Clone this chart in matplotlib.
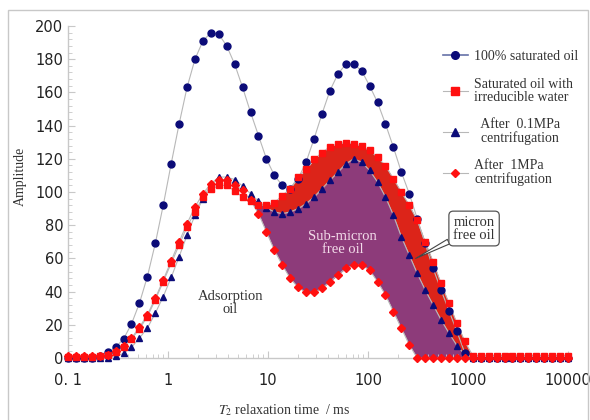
import numpy as np
import matplotlib
matplotlib.use('Agg')
import matplotlib.pyplot as plt
from matplotlib.lines import Line2D
from matplotlib.patches import Rectangle
from matplotlib.ticker import MultipleLocator, LogLocator, NullFormatter

plt.rcParams['mathtext.fontset'] = 'stix'

# ── Data: 64 log-spaced T2 points, 0.1 - 10000 ms ───────────────────────
t2 = np.logspace(-1, 4, 64)

sat_oil = [0, 0, 0, 0, 1.2, 3.4, 6.5, 11.5, 20.5, 33, 49, 69, 92, 117, 141, 163,
           180, 191, 196, 195, 188, 177, 163, 148, 134, 120, 110, 104, 102, 108,
           118, 132, 147, 161, 171, 177, 177, 173, 164, 154, 141, 127, 112, 99,
           84, 69, 54, 41, 28.5, 16, 3, 0, 0, 0, 0, 0, 0, 0, 0, 0, 0, 0, 0, 0]

irr_water = [0.8, 0.8, 0.8, 0.8, 1.0, 1.8, 3.6, 6.8, 11.4, 17.5, 25, 35, 46, 57, 68, 79,
             88, 97, 101.6, 104, 104, 100.6, 97, 94.8, 92, 92, 93.6, 97.8, 102, 109,
             113.6, 119.6, 123.7, 127.3, 129, 129.7, 129, 127.7, 125, 121, 115.8, 108, 100, 92,
             83, 70, 58, 45, 33, 21, 10, 1.5, 1.5, 1.5, 1.5, 1.5, 1.5, 1.5, 1.5, 1.5,
             1.5, 1.5, 1.5, 1.5]

cf_01 = [0, 0, 0, 0, 0, 0, 1, 2.8, 6.4, 12, 18, 27, 37, 48.5, 61, 74,
         86, 96, 105, 109, 109, 107.5, 103.6, 99, 94.5, 90.5, 88, 87, 88, 90,
         93, 97, 102, 107, 112, 117, 120, 118, 113, 106, 97, 86, 73, 62,
         51, 41, 32, 23, 15, 7.5, 2, 0, 0, 0, 0, 0, 0, 0, 0, 0, 0, 0, 0, 0]

cf_1 = [1, 1, 1, 1, 1.2, 2, 4, 7.5, 12, 18.5, 26, 36, 47, 58.5, 70, 81,
        91, 99, 105, 107.5, 107, 104.5, 101, 95, 87, 76, 65, 56, 48, 42.5,
        39.5, 39.5, 42, 46, 50, 54, 56, 56, 53, 46, 38, 28, 18, 8,
        0, 0, 0, 0, 0, 0, 0, 0, 0, 0, 0, 0, 0, 0, 0, 0, 0, 0, 0, 0]

labels = ["100% saturated oil",
          "Saturated oil with\nirreducible water",
          "  After  0.1MPa\n  centrifugation",
          "After  1MPa\ncentrifugation"]

xtick_vals = [0.1, 1, 10, 100, 1000, 10000]
xtick_labels = ["0. 1", "1", "10", "100", "1000", "10000"]

NAVY = "#0b0b78"
RED = "#ff1010"
LINE = "#b8b8b8"

sat_oil, irr_water, cf_01, cf_1 = map(np.array, (sat_oil, irr_water, cf_01, cf_1))

fig = plt.figure(figsize=(5.9, 4.2), dpi=100)
ax = fig.add_axes([68/590, 1-358/420, 500/590, 332/420])

# fills
mask_red = (t2 >= 8) & (t2 <= 1000)
ax.fill_between(t2, cf_01, irr_water, where=mask_red & (irr_water >= cf_01),
                interpolate=True, color="#dc2419", lw=0, zorder=1)
mask_pur = (t2 >= 7) & (t2 <= 1000)
ax.fill_between(t2, cf_1, cf_01, where=mask_pur & (cf_01 >= cf_1),
                interpolate=True, color="#8d3b7a", lw=0, zorder=1.5)

# series
for y in (sat_oil, irr_water, cf_01, cf_1):
    ax.plot(t2, y, color=LINE, lw=0.8, zorder=2)
ax.plot(t2, sat_oil, 'o', color=NAVY, ms=5.0, mec=NAVY, zorder=3, clip_on=False)
ax.plot(t2, cf_01, '^', color=NAVY, ms=5.0, mec=NAVY, zorder=4, clip_on=False)
ax.plot(t2, cf_1, 'D', color=RED, ms=3.8, mec=RED, zorder=5, clip_on=False)
ax.plot(t2, irr_water, 's', color=RED, ms=4.9, mec=RED, zorder=6, clip_on=False)

ax.set_xscale('log')
ax.set_xlim(0.1, 10000)
ax.set_ylim(0, 200)
ax.set_xticks(xtick_vals)
ax.set_xticklabels(xtick_labels)
ax.xaxis.set_minor_locator(LogLocator(base=10, subs=np.arange(2, 10)))
ax.xaxis.set_minor_formatter(NullFormatter())
ax.yaxis.set_major_locator(MultipleLocator(20))
ax.yaxis.set_minor_locator(MultipleLocator(4))

for s in ("top", "right"):
    ax.spines[s].set_visible(False)
for s in ("left", "bottom"):
    ax.spines[s].set_color("#c8c8c8")
    ax.spines[s].set_linewidth(1.0)
ax.tick_params(which='both', direction='in', color="#c8c8c8", labelsize=10.5,
               labelcolor="#222222")
ax.tick_params(which='major', length=5)
ax.tick_params(which='minor', length=3)
ax.tick_params(axis='x', pad=11)

# texts
serif = ["Liberation Serif", "DejaVu Serif"]
ax.text(4.2, 33, "Adsorption\noil", ha="center", va="center", fontsize=10.5,
        family=serif, color="#333333", linespacing=1.0)
ax.text(56, 69, "Sub-micron\nfree oil", ha="center", va="center", fontsize=10.5,
        family=serif, color="#f3dcea", linespacing=1.0, zorder=7)
ax.annotate("micron\nfree oil", xy=(300, 60), xytext=(1150, 78),
            ha="center", va="center", fontsize=10.5, family=serif, color="#333333",
            linespacing=1.0, zorder=8,
            bbox=dict(boxstyle="round,pad=0.3", fc="white", ec="#555555", lw=0.9),
            arrowprops=dict(arrowstyle="wedge,tail_width=0.35", fc="white",
                            ec="#444444", lw=0.8, shrinkA=0, shrinkB=0))

fig.text(20/590, 1-176/420, "Amplitude", rotation=90, ha="center", va="center",
         fontsize=10, family=serif, color="#333333")
fig.text(284/590, 1-410/420, r"$T_2$ relaxation time  / ms", ha="center", va="center",
         fontsize=10, family=serif, color="#333333")

# legend
handles = [
    Line2D([], [], color="#6672a8", lw=1.2, marker='o', ms=5.5, mfc=NAVY, mec=NAVY),
    Line2D([], [], color=LINE, lw=0.8, marker='s', ms=5.5, mfc=RED, mec=RED),
    Line2D([], [], color=LINE, lw=0.8, marker='^', ms=5.5, mfc=NAVY, mec=NAVY),
    Line2D([], [], color=LINE, lw=0.8, marker='D', ms=4, mfc=RED, mec=RED),
]
leg = fig.legend(handles, labels, loc="upper left", bbox_to_anchor=(436/590, 1-43/420),
                 frameon=False, borderpad=0, handlelength=1.8, handletextpad=0.45,
                 labelspacing=1.05, prop={"family": serif, "size": 10})
for t in leg.get_texts():
    t.set_color("#333333")
    t.set_linespacing(1.0)

# figure border
fig.patches.append(Rectangle((8/590, -0.05), 580/590, 1.05 - 10/420,
                             transform=fig.transFigure, fill=False,
                             ec="#c8c8c8", lw=1.0))

fig.savefig("out.png", dpi=100)
